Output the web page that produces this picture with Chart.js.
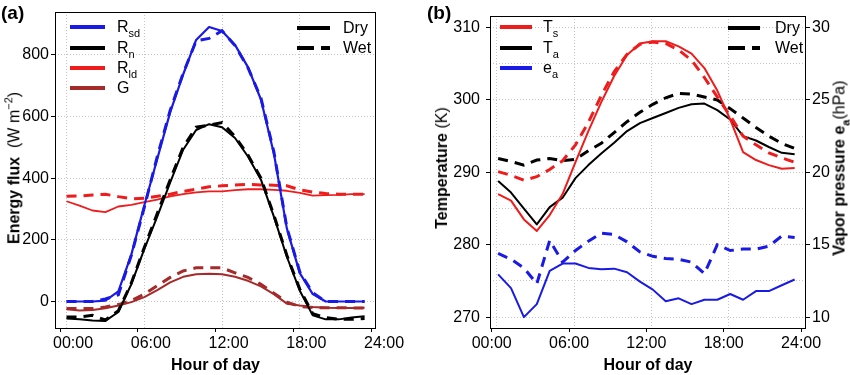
<!DOCTYPE html>
<html><head><meta charset="utf-8">
<script src="https://cdn.jsdelivr.net/npm/chart.js@4.4.1/dist/chart.umd.min.js"></script>
<style>
html,body{margin:0;padding:0;background:#fff;}
body{width:850px;height:375px;position:relative;overflow:hidden;font-family:"Liberation Sans",Arial,sans-serif;color:#000;}
.cv{position:absolute;top:0;width:425px;height:375px;}
.t{position:absolute;white-space:nowrap;font-size:16px;line-height:16px;}
.rot{transform:translate(-50%,-50%) rotate(-90deg);}
.ln{position:absolute;height:4px;}
.sub{font-size:11px;position:relative;top:5px;}
.pl{position:absolute;font-weight:bold;font-size:19px;line-height:19px;}
sup{font-size:11px;position:relative;top:-1px;}
</style>
</head><body>
<div class="cv" style="left:0"><canvas id="ca" width="425" height="375"></canvas></div>
<div class="cv" style="left:425px"><canvas id="cb" width="425" height="375"></canvas></div>

<div class="pl" style="left:1px;top:3px">(a)</div>
<div class="pl" style="left:427px;top:3px">(b)</div>

<!-- panel a legends -->
<div class="ln" style="left:70px;top:25px;width:35px;background:#1a1ae6"></div>
<div class="ln" style="left:70px;top:46px;width:35px;background:#000"></div>
<div class="ln" style="left:70px;top:66px;width:35px;background:#ee1c1c"></div>
<div class="ln" style="left:70px;top:86px;width:35px;background:#a52a2a"></div>
<div class="t" style="left:117px;top:19px">R<span class="sub">sd</span></div>
<div class="t" style="left:117px;top:40px">R<span class="sub">n</span></div>
<div class="t" style="left:117px;top:60px">R<span class="sub">ld</span></div>
<div class="t" style="left:117px;top:80px">G</div>
<div class="ln" style="left:297px;top:26px;width:33px;background:#000"></div>
<div class="ln" style="left:297px;top:46px;width:33px;background:repeating-linear-gradient(to right,#000 0 17px,transparent 17px 24px)"></div>
<div class="t" style="left:343px;top:20px">Dry</div>
<div class="t" style="left:343px;top:40px">Wet</div>

<!-- panel b legends -->
<div class="ln" style="left:500px;top:25px;width:32px;background:#ee1c1c"></div>
<div class="ln" style="left:500px;top:46px;width:32px;background:#000"></div>
<div class="ln" style="left:500px;top:66px;width:32px;background:#1a1ae6"></div>
<div class="t" style="left:543px;top:19px">T<span class="sub">s</span></div>
<div class="t" style="left:543px;top:40px">T<span class="sub">a</span></div>
<div class="t" style="left:543px;top:60px">e<span class="sub">a</span></div>
<div class="ln" style="left:728px;top:26px;width:32px;background:#000"></div>
<div class="ln" style="left:728px;top:46px;width:32px;background:repeating-linear-gradient(to right,#000 0 17px,transparent 17px 24px)"></div>
<div class="t" style="left:775px;top:20px">Dry</div>
<div class="t" style="left:775px;top:40px">Wet</div>

<!-- rotated axis titles -->
<div class="t rot" style="left:12px;top:168px"><b>Energy flux</b>&nbsp; (W m<sup>−2</sup>)</div>
<div class="t rot" style="left:442px;top:168px"><b>Temperature</b> (K)</div>
<div class="t rot" style="left:840px;top:168px"><b>Vapor pressure e<span class="sub">a</span></b>(hPa)</div>

<script>
// ---- data ----
const hours = [0.5,1.5,2.5,3.5,4.5,5.5,6.5,7.5,8.5,9.5,10.5,11.5,12.5,13.5,14.5,15.5,16.5,17.5,18.5,19.5,20.5,21.5,22.5,23.5];
const tickHours = [0,6,12,18,24];
const tickLabels = ['00:00','06:00','12:00','18:00','24:00'];
const fluxTicks = [0,200,400,600,800];
const tempTicks = [270,280,290,300,310];
const tempGrid = [270,275,280,285,290,295,300,305,310];
const vapTicks = [10,15,20,25,30];

// panel (a) energy fluxes, W m-2
const rsdDry = [0,0,0,3,33,152,311,462,614,736,848,890,877,832,760,655,480,237,92,24,0,0,0,0];
const rsdWet = [0,0,0,8,22,150,305,470,620,740,845,853,878,830,758,660,485,240,96,28,0,0,0,0];
const rnDry  = [-55,-58,-62,-63,-34,56,170,275,386,492,556,575,565,530,470,395,275,145,35,-45,-58,-58,-52,-48];
const rnWet  = [-50,-50,-45,-60,-30,60,175,285,395,500,565,572,580,535,475,400,280,150,40,-40,-52,-58,-58,-55];
const rldDry = [325,311,295,290,308,313,322,330,341,348,354,357,357,361,364,364,362,359,352,343,345,346,348,348];
const rldWet = [341,342,345,348,340,333,335,341,348,357,364,372,375,378,380,378,377,375,362,355,350,348,348,348];
const gDry   = [-25,-29,-28,-22,-13,-2,14,37,62,80,88,90,88,80,67,49,24,-7,-13,-18,-20,-21,-21,-20];
const gWet   = [-23,-23,-23,-18,-10,3,24,51,78,99,109,109,109,93,78,56,27,-2,-16,-20,-20,-20,-21,-21];

// panel (b) temperatures (K) and vapour pressure (hPa)
const tsDry = [287.0,286.1,283.5,281.9,284.1,287.0,291.4,295.7,299.7,303.3,306.2,307.8,308.1,308.1,307.4,306.4,304.4,301.3,297.3,292.8,291.7,291.0,290.5,290.6];
const tsWet = [290.1,289.6,288.9,289.4,290.4,291.6,293.8,296.9,300.6,303.9,306.3,307.7,308.0,307.8,306.9,305.5,303.1,300.4,297.8,295.0,293.8,292.7,292.0,291.4];
const taDry = [288.8,287.2,285.0,282.8,285.2,286.5,289.2,291.0,292.6,294.1,295.7,296.8,297.5,298.2,298.9,299.4,299.5,298.6,297.3,295.0,294.4,293.5,292.7,292.5];
const taWet = [291.9,291.5,291.0,291.7,291.9,291.6,291.8,293.0,294.0,295.5,297.0,298.3,299.4,300.3,300.9,300.8,300.4,300.0,298.8,297.5,296.2,295.0,294.0,293.3];
const eaDry = [12.95,12.0,10.0,10.9,13.2,13.7,13.7,13.4,13.3,13.35,13.1,12.45,11.9,11.1,11.3,10.9,11.2,11.2,11.6,11.2,11.8,11.8,12.2,12.6];
const eaWet = [14.4,14.0,13.4,12.3,15.3,13.8,14.6,15.25,15.8,15.7,15.2,14.5,14.2,14.05,14.0,13.8,13.0,15.0,14.6,14.7,14.7,14.9,15.6,15.5];

// ---- styling ----
const BLUE='#1a1ae6', RED='#ee1c1c', BROWN='#a52a2a', BLACK='#000000';
const GRID='#c4c4c4';
Chart.defaults.font.family = "'Liberation Sans', Arial, sans-serif";
Chart.defaults.color = '#000';

const pts = vals => hours.map((h,i)=>({x:h, y:vals[i]}));
const solid = (vals,color,axis,w) => ({data:pts(vals),borderColor:color,borderWidth:w||2,pointRadius:0,fill:false,tension:0,yAxisID:axis||'y',borderJoinStyle:'round'});
const dashed = (vals,color,axis) => ({data:pts(vals),borderColor:color,borderWidth:3,borderDash:[10,7],pointRadius:0,fill:false,tension:0,yAxisID:axis||'y'});
const setTicks = arr => (s => { s.ticks = arr.map(v=>({value:v})); });

const frame = {id:'frame', afterDraw(c){
  const a=c.chartArea, x=c.ctx; x.save(); x.strokeStyle='#000'; x.lineWidth=1;
  x.strokeRect(Math.round(a.left)+0.5, Math.round(a.top)+0.5, Math.round(a.right-a.left)-1, Math.round(a.bottom-a.top));
  x.restore();
}};

function xAxes(min,max,labelOffset,gridShift){
  return {
    x:{type:'linear',position:'bottom',min:min,max:max,afterBuildTicks:setTicks(tickHours),
       ticks:{font:{size:16},color:'#000',padding:2,labelOffset:labelOffset,maxRotation:0,autoSkip:false,
              callback:v=>tickLabels[tickHours.indexOf(v)]},
       grid:{drawOnChartArea:false,tickLength:4,color:'#000'},border:{display:false},
       title:{display:true,text:'Hour of day',font:{size:16,weight:'bold'},color:'#000',padding:{top:0,bottom:0}},
       afterFit:s=>{s.height=47;}},
    xg:{type:'linear',position:'top',min:min-gridShift,max:max-gridShift,afterBuildTicks:setTicks([0,6,12,18]),
       ticks:{display:false},grid:{drawTicks:false,color:GRID,lineWidth:1},border:{display:false,dash:[1,2]},
       afterFit:s=>{s.height=0;}}
  };
}

const common = {responsive:false,animation:false,
  plugins:{legend:{display:false},tooltip:{enabled:false}},
  elements:{line:{capBezierPoints:false}}};

new Chart(document.getElementById('ca'),{
  type:'line',
  data:{datasets:[
    solid(rsdDry,BLUE,'y',2.2), dashed(rsdWet,BLUE),
    solid(rnDry,BLACK,'y',2), dashed(rnWet,BLACK),
    solid(rldDry,RED,'y',1.8), dashed(rldWet,RED),
    solid(gDry,BROWN,'y',2), dashed(gWet,BROWN)
  ]},
  options:Object.assign({},common,{
    layout:{padding:{top:6,right:49,left:0,bottom:0}},
    scales:Object.assign(xAxes(-0.39,24.38,13,0.5),{
      y:{type:'linear',min:-86,max:940,afterBuildTicks:setTicks(fluxTicks),
         ticks:{font:{size:16},color:'#000',padding:2},
         grid:{color:GRID,tickLength:4,tickColor:'#000',tickBorderDash:[]},border:{display:false,dash:[1,2]},
         afterFit:s=>{s.width=55;}}
    })
  }),
  plugins:[frame]
});

new Chart(document.getElementById('cb'),{
  type:'line',
  data:{datasets:[
    solid(tsDry,RED,'y',2), dashed(tsWet,RED),
    solid(taDry,BLACK,'y',2), dashed(taWet,BLACK),
    solid(eaDry,BLUE,'e',2), dashed(eaWet,BLUE,'e')
  ]},
  options:Object.assign({},common,{
    layout:{padding:{top:6,right:0,left:0,bottom:0}},
    scales:Object.assign(xAxes(-0.13,24.38,0,0.4),{
      y:{type:'linear',position:'left',min:268.5,max:311.65,afterBuildTicks:setTicks(tempTicks),
         ticks:{font:{size:16},color:'#000',padding:6},
         grid:{drawOnChartArea:false,tickLength:4,color:'#000'},border:{display:false},
         afterFit:s=>{s.width=65;}},
      yg:{type:'linear',position:'right',min:268.5,max:311.65,afterBuildTicks:setTicks(tempGrid),
         ticks:{display:false},grid:{drawTicks:false,color:GRID},border:{display:false,dash:[1,2]},
         afterFit:s=>{s.width=0;}},
      e:{type:'linear',position:'right',min:9.25,max:30.825,afterBuildTicks:setTicks(vapTicks),
         ticks:{font:{size:16},color:'#000',padding:2},
         grid:{drawOnChartArea:false,tickLength:4,color:'#000'},border:{display:false},
         afterFit:s=>{s.width=44;}}
    })
  }),
  plugins:[frame]
});
</script>
</body></html>
